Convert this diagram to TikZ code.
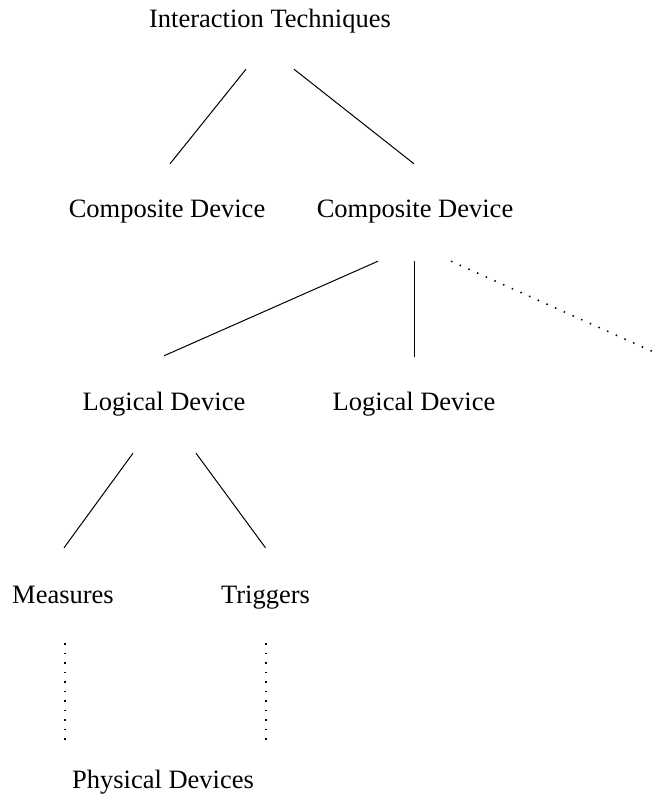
\documentclass[tikz,border=0pt]{standalone}
\usepackage{fontspec}
\setmainfont{Liberation Serif}
\usepackage{tikz}
\usetikzlibrary{calc,positioning}

\tikzset{
    level/.style={anchor=base, inner sep=0pt, text height=18pt, text depth=6pt,
        font=\fontsize{26.5}{30}\selectfont},
    link/.style={line width=1pt},
    maybe/.style={line width=1.5pt, dash pattern=on 1.5pt off 8pt}
}

\begin{document}
\begin{tikzpicture}[x=1pt, y=-1pt]
    \useasboundingbox (0,0) rectangle (659,801);
    % Levels
    \node [level] (tech) at (270,27) {Interaction Techniques};
    \node [level] (comp1) at (167,217) {Composite Device};
    \node [level] (comp2) at (415,217) {Composite Device};
    \node [level] (logic1) at (164,410) {Logical Device};
    \node [level] (logic2) at (414,410) {Logical Device};
    \node [level] (meas) at (63,603) {Measures};
    \node [level] (trig) at (265.5,603) {Triggers};
    \node [level] (phys) at (163,788) {Physical Devices};
    \coordinate (more) at (656,353);
    % Tree
    \draw [link] ($(tech.south)+(-24,36)$) -- ($(comp1.north)+(3,-35)$);
    \draw [link] ($(tech.south)+(24,36)$) -- ($(comp2.north)+(-1,-35)$);
    \draw [link] ($(comp2.south)+(-37,38)$) -- ($(logic1.north)+(0,-36)$);
    \draw [link] ($(comp2.south)+(-1,38)$) -- ($(logic2.north)+(0,-35)$);
    \draw [maybe] ($(comp2.south)+(36,38)$) -- (more); % further devices
    \draw [link] ($(logic1.south)+(-31,37)$) -- ($(meas.north)+(1,-37)$);
    \draw [link] ($(logic1.south)+(32,37)$) -- ($(trig.north)+(0,-37)$);
    % Down to hardware
    \draw [maybe] ($(meas.south)+(2,34)$) -- ($(phys.north)+(-98,-28)$);
    \draw [maybe] ($(trig.south)+(0.5,34)$) -- ($(phys.north)+(103,-28)$);
\end{tikzpicture}
\end{document}
